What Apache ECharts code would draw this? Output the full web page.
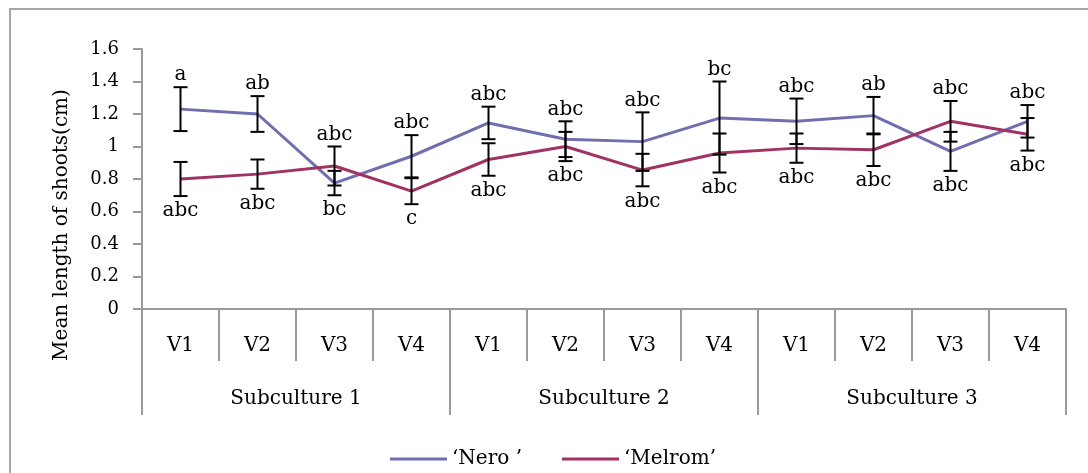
<!DOCTYPE html>
<html>
<head>
<meta charset="utf-8">
<script src="https://cdn.jsdelivr.net/npm/echarts@6/dist/echarts.min.js"></script>
<style>
  html, body { margin: 0; padding: 0; background: #fff; }
  #chart { width: 1088px; height: 473px; }
</style>
</head>
<body>
<div id="chart"></div>
<script>
// Shoot length of two cultivars across three subcultures and four media (V1-V4)
const variants = ['V1', 'V2', 'V3', 'V4'];
const subcultures = ['Subculture 1', 'Subculture 2', 'Subculture 3'];
const yTicks = [0, 0.2, 0.4, 0.6, 0.8, 1, 1.2, 1.4, 1.6];

const neroName = '\u2018Nero \u2019';
const melromName = '\u2018Melrom\u2019';

const neroMean = [1.23, 1.20, 0.775, 0.94, 1.145, 1.045, 1.03, 1.175, 1.155, 1.19, 0.97, 1.155];
const neroErr = [0.135, 0.11, 0.075, 0.13, 0.10, 0.11, 0.18, 0.225, 0.14, 0.115, 0.12, 0.10];
const neroLetters = ['a', 'ab', 'bc', 'abc', 'abc', 'abc', 'abc', 'bc', 'abc', 'ab', 'abc', 'abc'];

const melromMean = [0.80, 0.83, 0.88, 0.725, 0.92, 1.0, 0.855, 0.96, 0.99, 0.98, 1.155, 1.075];
const melromErr = [0.105, 0.09, 0.12, 0.08, 0.10, 0.09, 0.10, 0.12, 0.09, 0.10, 0.125, 0.10];
const melromLetters = ['abc', 'abc', 'abc', 'c', 'abc', 'abc', 'abc', 'abc', 'abc', 'abc', 'abc', 'abc'];

const FONT = '"DejaVu Serif", "Liberation Serif", serif';
const AXIS_GRAY = '#9a9a9a';

// unique keys per position; the label shows only the medium name
const categories = subcultures.flatMap((s, gi) => variants.map(v => gi + '|' + v));

function errorRows(mean, err, letters, other) {
  return mean.map((m, i) => [i, m, err[i], letters[i], m >= other[i] ? 1 : 0]);
}

function renderErrorBar(params, api) {
  const idx = api.value(0);
  const mean = api.value(1);
  const err = api.value(2);
  const letter = api.value(3);
  const above = api.value(4) === 1;
  const top = api.coord([idx, mean + err]);
  const bottom = api.coord([idx, mean - err]);
  const half = 7;
  const stroke = { stroke: '#000', lineWidth: 2 };
  const labelPos = above ? top[1] - 12 : bottom[1] + 15;
  return {
    type: 'group',
    children: [
      { type: 'line', shape: { x1: top[0], y1: top[1], x2: bottom[0], y2: bottom[1] }, style: stroke },
      { type: 'line', shape: { x1: top[0] - half, y1: top[1], x2: top[0] + half, y2: top[1] }, style: stroke },
      { type: 'line', shape: { x1: bottom[0] - half, y1: bottom[1], x2: bottom[0] + half, y2: bottom[1] }, style: stroke },
      {
        type: 'text',
        x: top[0],
        y: labelPos,
        style: {
          text: letter,
          font: '20px ' + FONT,
          fill: '#000',
          align: 'center',
          verticalAlign: 'middle'
        }
      }
    ]
  };
}

const chart = echarts.init(document.getElementById('chart'), null, { renderer: 'canvas' });

chart.setOption({
  animation: false,
  backgroundColor: '#fff',
  grid: { left: 142, right: 22, top: 49, bottom: 164, outerBoundsMode: 'none', containLabel: false },
  legend: {
    data: [neroName, melromName],
    left: 390,
    top: 449,
    padding: 0,
    icon: 'rect',
    itemWidth: 57,
    itemHeight: 3,
    itemGap: 40,
    textStyle: { fontFamily: FONT, fontSize: 20, color: '#000' }
  },
  xAxis: [
    {
      type: 'category',
      position: 'bottom',
      data: categories,
      boundaryGap: true,
      axisLine: { show: true, lineStyle: { color: AXIS_GRAY, width: 2 } },
      axisTick: { show: true, interval: 0, length: 52, lineStyle: { color: AXIS_GRAY, width: 2 } },
      axisLabel: {
        interval: 0,
        margin: 27,
        fontFamily: FONT,
        fontSize: 20,
        color: '#000',
        formatter: v => v.split('|')[1]
      },
      splitLine: { show: false }
    },
    {
      type: 'category',
      position: 'bottom',
      offset: 52,
      data: subcultures,
      boundaryGap: true,
      axisLine: { show: false },
      axisTick: { show: true, interval: 0, length: 54, lineStyle: { color: AXIS_GRAY, width: 2 } },
      axisLabel: { interval: 0, margin: 28, fontFamily: FONT, fontSize: 20, color: '#000' },
      splitLine: { show: false }
    }
  ],
  yAxis: {
    type: 'value',
    min: yTicks[0],
    max: yTicks[yTicks.length - 1],
    interval: 0.2,
    axisLine: { show: true, lineStyle: { color: AXIS_GRAY, width: 2 } },
    axisTick: { show: true, length: 9, lineStyle: { color: AXIS_GRAY, width: 2 } },
    axisLabel: { margin: 23, fontFamily: FONT, fontSize: 18, color: '#000', formatter: v => String(+v.toFixed(1)) },
    splitLine: { show: false }
  },
  graphic: [
    {
      type: 'rect',
      shape: { x: 10, y: 9, width: 1300, height: 700 },
      style: { fill: 'none', stroke: '#a6a6a6', lineWidth: 2 },
      silent: true,
      z: -1
    },
    {
      type: 'text',
      x: 62,
      y: 225,
      rotation: Math.PI / 2,
      style: {
        text: 'Mean length of shoots(cm)',
        font: '20px ' + FONT,
        fill: '#000',
        align: 'center',
        verticalAlign: 'middle'
      }
    }
  ],
  series: [
    {
      name: neroName,
      type: 'line',
      data: neroMean,
      showSymbol: false,
      symbol: 'none',
      lineStyle: { color: '#6f6fb0', width: 3 },
      itemStyle: { color: '#6f6fb0' },
      z: 2
    },
    {
      name: melromName,
      type: 'line',
      data: melromMean,
      showSymbol: false,
      symbol: 'none',
      lineStyle: { color: '#a03264', width: 3 },
      itemStyle: { color: '#a03264' },
      z: 2
    },
    {
      name: 'neroErrorBars',
      type: 'custom',
      renderItem: renderErrorBar,
      data: errorRows(neroMean, neroErr, neroLetters, melromMean),
      encode: { x: 0, y: 1 },
      z: 5,
      silent: true
    },
    {
      name: 'melromErrorBars',
      type: 'custom',
      renderItem: renderErrorBar,
      data: errorRows(melromMean, melromErr, melromLetters, neroMean),
      encode: { x: 0, y: 1 },
      z: 5,
      silent: true
    }
  ]
});
</script>
</body>
</html>
